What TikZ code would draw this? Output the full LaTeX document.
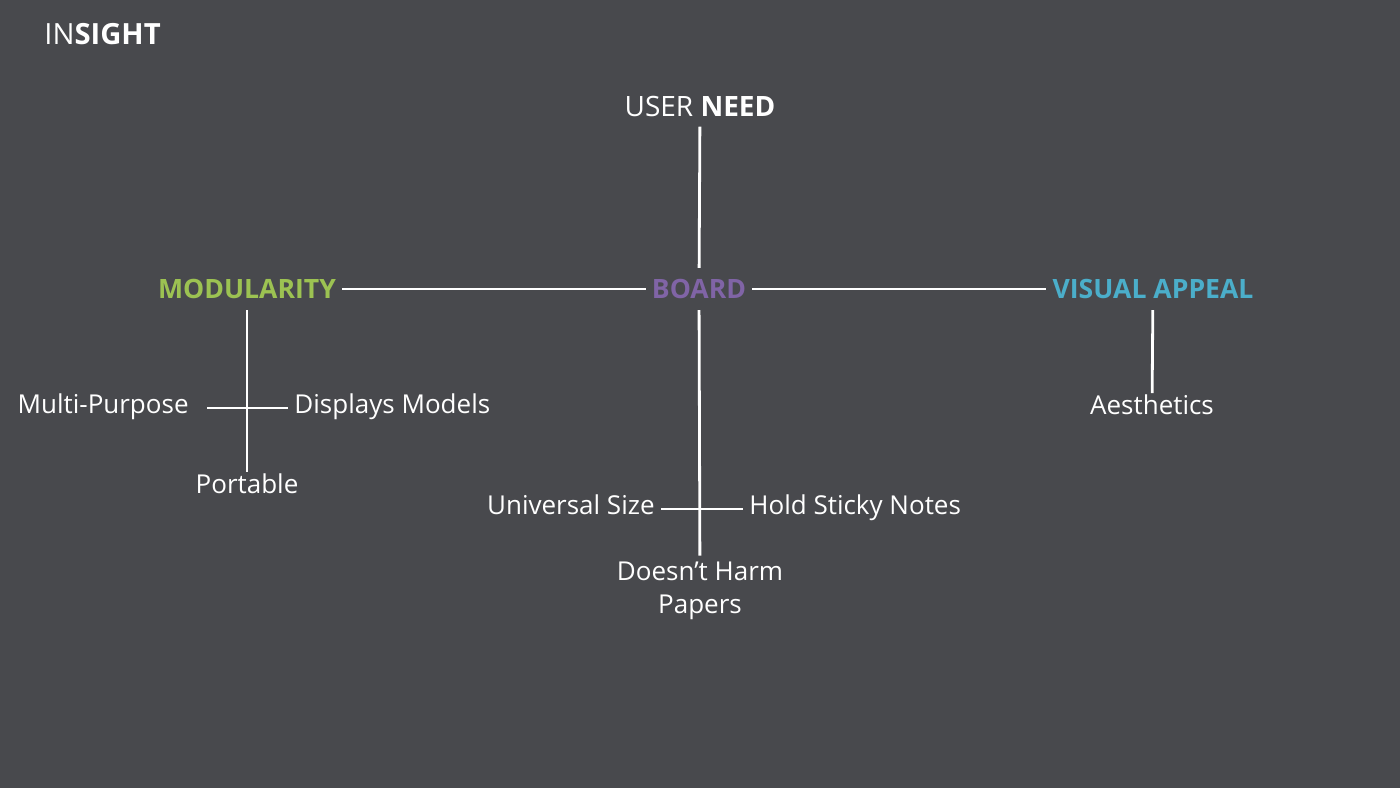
\documentclass[tikz,border=0pt]{standalone}
\usepackage{fontspec}
\setmainfont{Open Sans}
\usetikzlibrary{positioning}
\definecolor{slate}{HTML}{48494D}
\definecolor{modgreen}{HTML}{9CC252}
\definecolor{boardpurple}{HTML}{8064A6}
\definecolor{appealblue}{HTML}{4BAECA}

\begin{document}
\begin{tikzpicture}[x=0.5pt,y=-0.5pt,
  every node/.style={text=white,inner sep=3pt},
  label/.style={font=\fontsize{13}{16.5}\selectfont},
  fixed/.style={text height=.75em,text depth=.2em},
  head/.style={font=\fontsize{13.3}{16}\selectfont\bfseries,inner ysep=5.5pt},
  link/.style={draw=white,line width=1.4pt}]
  \fill[slate] (0,0) rectangle (1400,788);

  \node[anchor=west,font=\fontsize{14.6}{16}\selectfont] (insight) at (38,34) {IN\textbf{SIGHT}};

  % main cross
  \node[font=\fontsize{14}{16}\selectfont,inner ysep=5pt] (need) at (700,106) {USER \textbf{NEED}};
  \node[head,text=boardpurple] (board) at (699,289) {BOARD};
  \node[head,text=modgreen] (modularity) at (247,289) {MODULARITY};
  \node[head,text=appealblue] (appeal) at (1153,289) {VISUAL APPEAL};

  \draw[link] (need) -- (board);
  \draw[link] (modularity) -- (board);
  \draw[link] (board) -- (appeal);

  % modularity branch
  \node[label,fixed,anchor=east] (multi) at (195,408) {Multi-Purpose};
  \node[label,fixed,anchor=west] (displays) at (288,408) {Displays Models};
  \node[label,fixed] (portable) at (247,488) {Portable};
  \draw[link,shorten <=6pt] (multi) -- (displays);
  \draw[link] (modularity) -- (portable);

  % board branch
  \node[label,fixed,anchor=east] (universal) at (661,509) {Universal Size};
  \node[label,fixed,anchor=west] (sticky) at (743,509) {Hold Sticky Notes};
  \node[label,align=center] (harm) at (700,591) {Doesn’t Harm\\Papers};
  \draw[link] (universal) -- (sticky);
  \draw[link] (board) -- (harm);

  % visual appeal branch
  \node[label,fixed] (aesthetics) at (1152,409) {Aesthetics};
  \draw[link] (appeal) -- (aesthetics);
\end{tikzpicture}
\end{document}
